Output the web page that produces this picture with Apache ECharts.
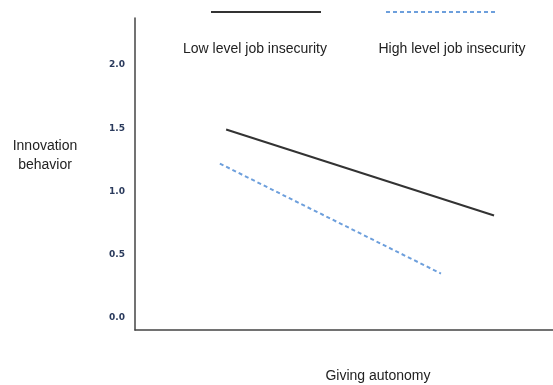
<!DOCTYPE html>
<html><head><meta charset="utf-8">
<script src="https://cdn.jsdelivr.net/npm/echarts@6/dist/echarts.min.js"></script>
<style>html,body{margin:0;padding:0;background:#fff}#c{width:553px;height:385px}</style>
</head><body><div id="c"></div>
<script>
var seriesNames = ['Low level job insecurity', 'High level job insecurity'];
var lowX = [0.218, 0.859];
var lowY = [1.49, 0.81];
var highX = [0.203, 0.732];
var highY = [1.22, 0.35];
var yTicks = [0.0, 0.5, 1.0, 1.5, 2.0];
var xTitle = 'Giving autonomy';
var yTitle = 'Innovation\nbehavior';

var chart = echarts.init(document.getElementById('c'));
function pairs(xs, ys){ return xs.map(function(x,i){return [x, ys[i]];}); }
var txt = {fontFamily:'Liberation Sans', fontSize:14, fontWeight:'normal', color:'#222'};
var legendBase = {top:6, itemWidth:110, itemHeight:1, padding:5, formatter:function(){return '';}, selectedMode:false,
  itemStyle:{color:'rgba(0,0,0,0)', borderWidth:0}};
chart.setOption({
  animation:false,
  grid:{left:135, right:0, top:18, bottom:55, containLabel:false},
  legend:[
    Object.assign({data:[seriesNames[0]], left:205}, legendBase),
    Object.assign({data:[seriesNames[1]], left:380}, legendBase)
  ],
  title:[
    {text:seriesNames[0], left:250, top:37, textAlign:'center', textStyle:txt},
    {text:seriesNames[1], left:447, top:37, textAlign:'center', textStyle:txt},
    {text:yTitle, left:40, top:132, textAlign:'center', textStyle:Object.assign({lineHeight:19}, txt)},
    {text:xTitle, left:373, top:364, textAlign:'center', textStyle:txt}
  ],
  xAxis:{type:'value', min:0, max:1, axisLine:{show:true, onZero:false, lineStyle:{color:'#444', width:1.5}}, axisTick:{show:false}, axisLabel:{show:false}, splitLine:{show:false}},
  yAxis:{type:'value', min:-0.0965, max:2.372,
    axisLine:{show:true, lineStyle:{color:'#444', width:1.5}}, axisTick:{show:false}, splitLine:{show:false},
    axisLabel:{customValues:yTicks, margin:10, fontFamily:'DejaVu Sans', fontSize:9, fontWeight:'bold', color:'#2a3a5c',
      formatter:function(v){ return Number(v).toFixed(1); }}
  },
  series:[
    {name:seriesNames[0], type:'line', data:pairs(lowX, lowY), symbol:'none', lineStyle:{color:'#333', width:2, type:'solid'}, itemStyle:{color:'#333'}},
    {name:seriesNames[1], type:'line', data:pairs(highX, highY), symbol:'none', lineStyle:{color:'#6d9fdc', width:2, type:[4,3]}, itemStyle:{color:'#6d9fdc'}}
  ]
});
</script></body></html>
